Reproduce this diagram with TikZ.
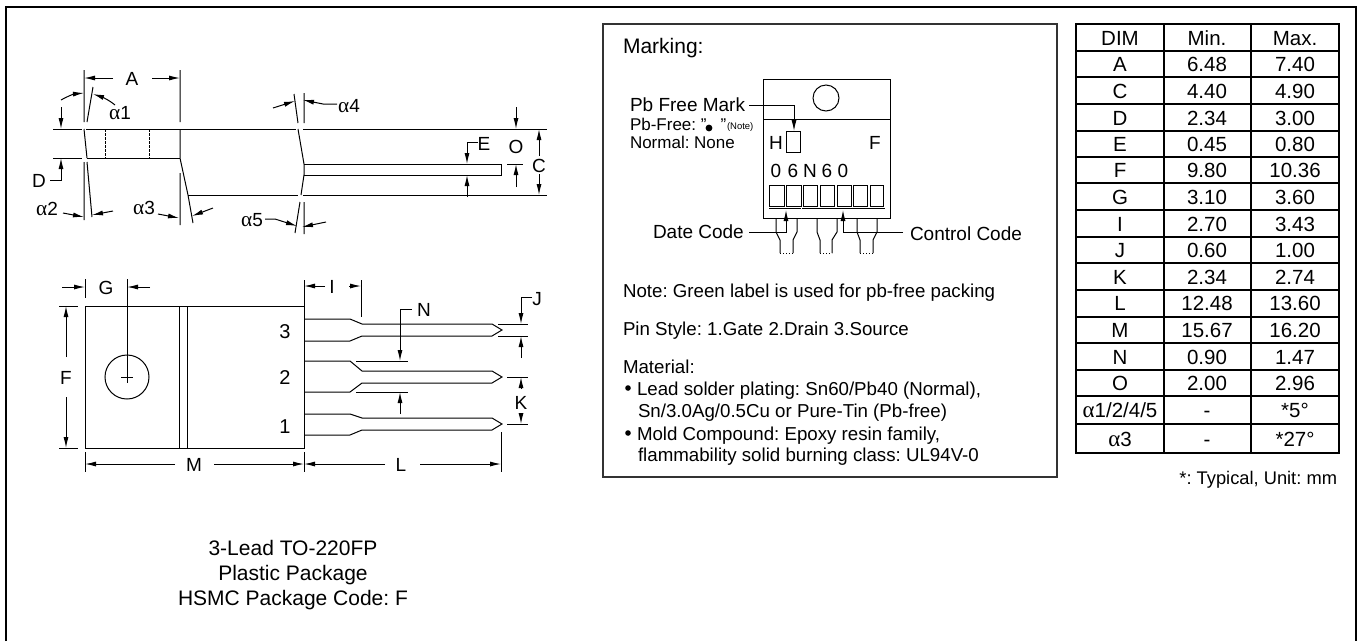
\documentclass[tikz,border=0pt]{standalone}
\usepackage{fontspec}
\setmainfont{Liberation Sans}
\newfontfamily\symf[Scale=1.12]{Liberation Serif}
\usetikzlibrary{arrows.meta}
\newcommand{\al}{{\symf α}}
\newcommand{\fs}[1]{\fontsize{#1}{#1}\selectfont\frenchspacing}
\tikzset{
  x=1pt,y=-1pt,
  ln/.style={line width=1pt,black},
  thin line/.style={line width=.8pt,black},
  dim/.style={line width=1pt,black,-{Latex[length=11pt,width=5pt]}},
  txt/.style={inner sep=0pt,outer sep=0pt,text height=14pt,text depth=0pt,font=\fs{19}},
  lab/.style={txt,anchor=center},
  lft/.style={txt,anchor=west},
  small/.style={txt,anchor=west,font=\fs{17}},
  bodytxt/.style={txt,anchor=west,font=\fs{18.7}},
  cell/.style={txt,anchor=center,font=\fs{20.5}},
  grid/.style={line width=2pt,black},
  boxline/.style={line width=1.6pt,black!80},
  frameline/.style={line width=2pt,black,line cap=butt},
}
\begin{document}
\begin{tikzpicture}
\useasboundingbox (0,0) rectangle (1360,641);
% outer frame (open at the page's lower edge)
\draw[frameline] (6,641) -- (6,7) -- (1356,7) -- (1356,641);

% ---------- side view ----------
\draw[ln] (53,129) -- (82,129) (86,129) -- (296,129) (303,129) -- (547,129);
\draw[ln] (53,158) -- (82,158) (87,158) -- (180,158);
\draw[ln] (188,195) -- (298,195) (303,195) -- (547,195);
\draw[ln] (84,129) -- (87,158);
\draw[ln] (180,129) -- (180,158) -- (188,195);
\draw[ln,dashed,dash pattern=on 3pt off 1pt] (105,129) -- (105,158) (149,129) -- (149,158);
\draw[ln] (298,129) -- (304,164) -- (304,175) -- (301,195);
\draw[ln] (304,164) -- (501,164) -- (501,175) -- (304,175);
% A
\draw[ln] (84,70) -- (84,122) (180,70) -- (180,122) (87,122) -- (93,87);
\node[lab] (A) at (132,78) {A};
\draw[dim] (113,78) -- (84,78);
\draw[dim] (152,78) -- (180,78);
% alpha1
\node[lab] (a1) at (120,112) {\al1};
\draw[dim] (61,100) .. controls (68,96) and (74,94) .. (84,93);
\draw[dim] (115,105) .. controls (109,100) and (102,97) .. (93,94);
% D
\node[lab] (D) at (39,180) {D};
\draw[dim] (61,107) -- (61,129);
\draw[dim] (50,180) -- (61,180) -- (61,158);
% alpha2
\draw[ln] (84,162) -- (84,220) (87,162) -- (92,217);
\node[lab] (a2) at (47,208) {\al2};
\draw[dim] (63,213) -- (84,217);
\draw[dim] (113,211) -- (92,215);
% alpha3
\draw[ln] (180,173) -- (180,225) (188,195) -- (193,223);
\node[lab] (a3) at (144,207) {\al3};
\draw[dim] (158,214) -- (179,218);
\draw[dim] (213,208) -- (192,216);
% alpha5
\draw[ln] (304,202) -- (304,234) (300,202) -- (295,233);
\node[lab] (a5) at (252,219) {\al5};
\draw[dim] (265,219) -- (275,219) -- (297,226);
\draw[dim] (326,222) -- (302,227);
% alpha4
\draw[ln] (304,93) -- (304,123) (294,94) -- (298,123);
\node[lab] (a4) at (349,105) {\al4};
\draw[dim] (273,108) -- (295,101);
\draw[dim] (337,104) -- (323,104) -- (303,100);
% E
\node[lab] (E) at (484,143) {E};
\draw[dim] (478,142) -- (467,142) -- (467,164);
\draw[dim] (467,197) -- (467,175);
% O
\node[lab] (O) at (516,146) {O};
\draw[dim] (516,107) -- (516,129);
\draw[ln] (507,164) -- (523,164);
\draw[dim] (516,187) -- (516,164);
% C
\node[lab] (C) at (539,165) {C};
\draw[dim] (539,156) -- (539,129);
\draw[dim] (539,174) -- (539,195);

% ---------- top view ----------
\draw[ln] (85,306) rectangle (304,448);
\draw[ln] (179,306) -- (179,448) (187,306) -- (187,448);
\draw[ln] (127,377) circle (22);
\draw[thin line] (121,377) -- (133,377) (127,279) -- (127,383);
\node[lab,font=\fs{20}] (p3) at (285,331) {3};
\node[lab,font=\fs{20}] (p2) at (285,377) {2};
\node[lab,font=\fs{20}] (p1) at (285,426) {1};
% G
\draw[ln] (85,279) -- (85,298);
\node[lab] (G) at (106,287) {G};
\draw[dim] (62,287) -- (85,287);
\draw[dim] (150,287) -- (127,287);
% F
\draw[ln] (59,306) -- (78,306) (59,448) -- (78,448);
\node[lab] (Fd) at (66,377) {F};
\draw[dim] (66,357) -- (66,306);
\draw[dim] (66,397) -- (66,448);
% M
\draw[ln] (85,452) -- (85,472) (304,452) -- (304,472);
\node[lab] (M) at (194,464) {M};
\draw[dim] (175,464) -- (85,464);
\draw[dim] (214,464) -- (304,464);
% leads
\draw[ln] (304,319) -- (350,319) -- (362,324) -- (492,324) -- (502,330) -- (492,336) -- (362,336) -- (350,341) -- (304,341);
\draw[ln] (304,361) -- (350,361) -- (362,371) -- (492,371) -- (502,377) -- (492,383) -- (362,383) -- (350,392) -- (304,392);
\draw[ln] (304,414) -- (350,414) -- (362,418) -- (492,418) -- (502,424) -- (492,430) -- (362,430) -- (350,435) -- (304,435);
% I
\draw[ln] (304,280) -- (304,306) (361,280) -- (361,317);
\node[lab] (I) at (332,286) {I};
\draw[dim] (325,286) -- (304,286);
\draw[dim] (349,286) -- (361,286);
% N
\node[lab] (N) at (424,309) {N};
\draw[dim] (412,309) -- (400,309) -- (400,361);
\draw[ln] (356,361) -- (408,361) (356,392) -- (408,392);
\draw[dim] (400,414) -- (400,392);
% J
\node[lab] (J) at (537,298) {J};
\draw[dim] (532,297) -- (521,297) -- (521,324);
\draw[ln] (498,324) -- (528,324) (498,336) -- (528,336);
\draw[dim] (521,358) -- (521,336);
% K
\draw[ln] (507,377) -- (528,377) (507,424) -- (528,424);
\node[lab] (K) at (521,402) {K};
\draw[dim] (521,389) -- (521,377);
\draw[dim] (521,413) -- (521,424);
% L
\draw[ln] (501,432) -- (501,472);
\node[lab] (L) at (401,464) {L};
\draw[dim] (385,464) -- (304,464);
\draw[dim] (420,464) -- (501,464);
% title
\node[lab,font=\fs{21}] (t1) at (293,548) {3-Lead TO-220FP};
\node[lab,font=\fs{21}] (t2) at (293,573) {Plastic Package};
\node[lab,font=\fs{21}] (t3) at (293,598) {HSMC Package Code: F};

% ---------- marking box ----------
\draw[boxline] (603,24) rectangle (1057,477);
\node[lft,font=\fs{21}] (mk) at (623,46) {Marking:};
\draw[ln] (763,79) rectangle (890,218);
\draw[ln] (763,119) -- (890,119);
\draw[ln] (826,98) circle (13);
\node[lft] (pb) at (630,104) {Pb Free Mark};
\node[small] (pf) at (630,123) {Pb-Free: "\hspace{14pt}"};
\fill (709,128) circle (3.4);
\node[txt,anchor=west,font=\fs{9.5}] (nt) at (727,122) {(Note)};
\node[small] (nn) at (630,141) {Normal: None};
\draw[ln] (786,131) rectangle (800,152);
\draw[dim] (749,105) -- (794,105) -- (794,131);
\node[lab] (H) at (776,142) {H};
\node[lab] (Fm) at (875,142) {F};
\foreach \c/\x/\n in {0/776/a,6/793/b,N/810/c,6/827/d,0/843/e}
  \node[lab] (code\n) at (\x,170) {\c};
\foreach \a/\b in {769/784,786/801,803/817,820/834,837/851,853/867,870/883}
  \draw[ln] (\a,185) rectangle (\b,206);
\draw[ln] (769,208) -- (801,208) (802,208) -- (885,208);
\node[lft] (dc) at (653,231) {Date Code};
\node[lft] (cc) at (910,233) {Control Code};
\foreach \a/\b/\c/\d in {776/780/793/797,817/820/832/837,857/860/873/877}{
  \draw[ln] (\a,218) -- (\a,232) -- (\b,240) -- (\b,253);
  \draw[ln] (\d,218) -- (\d,232) -- (\c,240) -- (\c,253);
  \draw[ln,dotted] (\b,253) -- (\c,253);
}
\draw[dim] (749,232) -- (786,232) -- (786,210);
\draw[dim] (903,232) -- (843,232) -- (843,210);
\node[bodytxt] (n1) at (623,290) {Note: Green label is used for pb-free packing};
\node[bodytxt] (n2) at (623,328) {Pin Style: 1.Gate 2.Drain 3.Source};
\node[bodytxt] (n3) at (623,366) {Material:};
\fill (628,388) circle (2.8);
\node[bodytxt] (n4) at (637,388) {Lead solder plating: Sn60/Pb40 (Normal),};
\node[bodytxt] (n5) at (638,410) {Sn/3.0Ag/0.5Cu or Pure-Tin (Pb-free)};
\fill (628,433) circle (2.8);
\node[bodytxt] (n6) at (637,433) {Mold Compound: Epoxy resin family,};
\node[bodytxt] (n7) at (638,454) {flammability solid burning class: UL94V-0};

% ---------- table ----------
\draw[grid] (1076,24) rectangle (1339,453);
\draw[grid] (1164,24) -- (1164,453) (1251,24) -- (1251,453);
\foreach \y in {51,77,104,131,157,183,210,237,263,290,317,343,370,396,424}
  \draw[grid] (1076,\y) -- (1339,\y);
\foreach \y/\d/\mn/\mx/\n in {
  38/DIM/Min./Max./h, 64/A/6.48/7.40/a, 91/C/4.40/4.90/c, 118/D/2.34/3.00/d,
  144/E/0.45/0.80/e, 170/F/9.80/10.36/f, 197/G/3.10/3.60/g, 224/I/2.70/3.43/i,
  250/J/0.60/1.00/j, 277/K/2.34/2.74/k, 303/L/12.48/13.60/l, 330/M/15.67/16.20/m,
  357/N/0.90/1.47/n, 383/O/2.00/2.96/o, 410/{\al1/2/4/5}/-/*5\textdegree/p, 439/{\al3}/-/*27\textdegree/q}{
  \node[cell] (r\n d) at (1120,\y) {\d};
  \node[cell] (r\n a) at (1207,\y) {\mn};
  \node[cell] (r\n b) at (1295,\y) {\mx};
}
\node[txt,anchor=east,font=\fs{18.3}] (unit) at (1337,477) {*: Typical, Unit: mm};
\end{tikzpicture}
\end{document}
